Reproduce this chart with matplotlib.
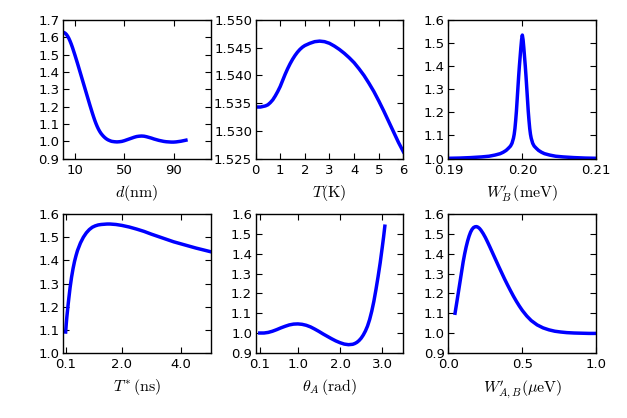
import matplotlib
matplotlib.use("Agg")
import matplotlib.pyplot as plt
import numpy as np

# values
d_nm = [0, 1, 2, 3, 4, 5, 6, 7, 8, 9, 10, 11, 12, 13, 14, 15, 16, 17, 18, 19, 20,
        21, 22, 23, 24, 25, 26, 27, 28, 29, 30, 31, 32, 33, 34, 35, 36, 37, 38, 39,
        40, 42, 44, 46, 48, 50, 52, 54, 56, 58, 60, 62, 64, 66, 68, 70, 72, 74, 76,
        78, 80, 82, 84, 86, 88, 90, 92, 94, 96, 98, 100]
ratio_d = [1.630, 1.628, 1.624, 1.617, 1.607, 1.594, 1.578, 1.560, 1.540, 1.518,
           1.496, 1.473, 1.450, 1.426, 1.402, 1.378, 1.354, 1.330, 1.306, 1.282,
           1.258, 1.234, 1.210, 1.187, 1.164, 1.142, 1.121, 1.102, 1.085, 1.070,
           1.057, 1.046, 1.037, 1.029, 1.022, 1.016, 1.011, 1.007, 1.004, 1.001,
           0.999, 0.997, 0.996, 0.997, 0.999, 1.003, 1.008, 1.013, 1.018, 1.023,
           1.027, 1.029, 1.030, 1.029, 1.026, 1.022, 1.018, 1.013, 1.009, 1.005,
           1.002, 0.999, 0.997, 0.996, 0.995, 0.995, 0.996, 0.998, 1.000, 1.003,
           1.006]

T_K = [0.0, 0.2, 0.3, 0.4, 0.5, 0.6, 0.7, 0.8, 0.9, 1.0, 1.1, 1.2, 1.3, 1.4, 1.5,
       1.6, 1.7, 1.8, 1.9, 2.0, 2.2, 2.4, 2.6, 2.8, 3.0, 3.2, 3.4, 3.6, 3.8, 4.0,
       4.2, 4.4, 4.6, 4.8, 5.0, 5.2, 5.4, 5.6, 5.8, 6.0]
ratio_T = [1.5343, 1.5343, 1.5344, 1.5345, 1.5347, 1.5351, 1.5356, 1.5363, 1.5371,
           1.5380, 1.5391, 1.5402, 1.5412, 1.5421, 1.5429, 1.5436, 1.5442, 1.5447,
           1.5451, 1.5454, 1.5458, 1.5461, 1.5462, 1.5461, 1.5458, 1.5453, 1.5447,
           1.5440, 1.5432, 1.5423, 1.5412, 1.5400, 1.5386, 1.5371, 1.5354, 1.5336,
           1.5317, 1.5298, 1.5279, 1.5262]

# W'_B : offsets from the peak (in 1e-3 meV), right half; curve is symmetric
wb_offset = [0, 0.1, 0.2, 0.3, 0.4, 0.5, 0.6, 0.7, 0.8, 0.9, 1.0, 1.1, 1.2, 1.4,
             1.6, 1.9, 2.2, 2.6, 3.0, 3.7, 4.5, 5.5, 7.0, 8.5, 10.0]
ratio_wb_half = [1.535, 1.515, 1.480, 1.440, 1.400, 1.355, 1.305, 1.255, 1.205,
                 1.165, 1.130, 1.105, 1.088, 1.066, 1.054, 1.044, 1.035, 1.027,
                 1.021, 1.015, 1.010, 1.007, 1.004, 1.002, 1.001]
wb_center = 0.200

Tstar_ns = [0.1, 0.12, 0.14, 0.16, 0.18, 0.2, 0.25, 0.3, 0.35, 0.4, 0.45, 0.5, 0.6,
            0.7, 0.8, 0.9, 1.0, 1.1, 1.2, 1.3, 1.4, 1.5, 1.6, 1.7, 1.8, 1.9, 2.0,
            2.25, 2.5, 2.75, 3.0, 3.25, 3.5, 3.75, 4.0, 4.25, 4.5, 4.75, 5.0]
ratio_Tstar = [1.09, 1.125, 1.155, 1.18, 1.205, 1.228, 1.283, 1.328, 1.365, 1.396,
               1.421, 1.443, 1.476, 1.501, 1.520, 1.534, 1.544, 1.550, 1.554, 1.556,
               1.557, 1.558, 1.558, 1.557, 1.556, 1.554, 1.552, 1.545, 1.536, 1.526,
               1.514, 1.503, 1.492, 1.481, 1.472, 1.463, 1.454, 1.446, 1.438]

theta_rad = [0.1, 0.2, 0.3, 0.4, 0.5, 0.6, 0.7, 0.8, 0.9, 1.0, 1.1, 1.2, 1.3, 1.4,
             1.5, 1.6, 1.7, 1.8, 1.9, 2.0, 2.1, 2.2, 2.3, 2.35, 2.4, 2.45, 2.5,
             2.55, 2.6, 2.65, 2.7, 2.75, 2.8, 2.85, 2.9, 2.95, 3.0, 3.03, 3.06]
ratio_theta = [1.000, 1.000, 1.003, 1.009, 1.017, 1.026, 1.034, 1.041, 1.045, 1.046,
               1.044, 1.039, 1.031, 1.020, 1.008, 0.995, 0.983, 0.971, 0.960, 0.951,
               0.944, 0.941, 0.943, 0.947, 0.953, 0.962, 0.974, 0.990, 1.010, 1.035,
               1.068, 1.110, 1.160, 1.220, 1.285, 1.355, 1.435, 1.485, 1.540]

wab_ueV = [0.045, 0.06, 0.08, 0.10, 0.11, 0.12, 0.13, 0.14, 0.15, 0.16, 0.17, 0.18,
           0.19, 0.20, 0.21, 0.22, 0.235, 0.25, 0.265, 0.28, 0.30, 0.32, 0.34, 0.36,
           0.38, 0.40, 0.42, 0.44, 0.46, 0.48, 0.50, 0.53, 0.56, 0.60, 0.64, 0.68,
           0.72, 0.76, 0.80, 0.85, 0.90, 0.95, 1.00]
ratio_wab = [1.10, 1.17, 1.265, 1.36, 1.40, 1.435, 1.465, 1.49, 1.51, 1.524, 1.533,
             1.537, 1.538, 1.535, 1.529, 1.52, 1.503, 1.483, 1.46, 1.436, 1.403, 1.37,
             1.337, 1.305, 1.273, 1.243, 1.214, 1.186, 1.16, 1.136, 1.114, 1.086,
             1.063, 1.041, 1.026, 1.016, 1.009, 1.005, 1.002, 1.000, 0.999, 0.998,
             0.998]

plt.rcParams['mathtext.fontset'] = 'cm'
plt.rcParams['font.size'] = 9.5
plt.rcParams['axes.labelsize'] = 11.5
plt.rcParams['xtick.direction'] = 'in'
plt.rcParams['ytick.direction'] = 'in'
plt.rcParams['xtick.top'] = True
plt.rcParams['ytick.right'] = True
plt.rcParams['xtick.major.size'] = 4
plt.rcParams['ytick.major.size'] = 4
plt.rcParams['xtick.major.pad'] = 4
plt.rcParams['ytick.major.pad'] = 2.5
plt.rcParams['axes.linewidth'] = 1.0

fig, axs = plt.subplots(2, 3, figsize=(6.27, 4.18), dpi=100)
fig.subplots_adjust(left=0.100, right=0.951, bottom=0.156, top=0.952,
                    wspace=0.304, hspace=0.403)

lw = 2.5
col = '#0000ff'

# W'_B full curve from the symmetric half
wb_x = np.concatenate([wb_center - np.array(wb_offset[::-1]) * 1e-3,
                       wb_center + np.array(wb_offset[1:]) * 1e-3])
wb_y = np.concatenate([ratio_wb_half[::-1], ratio_wb_half[1:]])

ax = axs[0, 0]
ax.plot(d_nm, ratio_d, color=col, lw=lw)
ax.set_xlim(0, 120)
ax.set_ylim(0.9, 1.7)
ax.set_xticks([10, 50, 90])
yt0 = [0.9, 1.0, 1.1, 1.2, 1.3, 1.4, 1.5, 1.6, 1.7]
ax.set_yticks(yt0)
ax.set_yticklabels(['%.1f' % v for v in yt0])
ax.set_xlabel(r'$d(\mathrm{nm})$')

ax = axs[0, 1]
ax.plot(T_K, ratio_T, color=col, lw=lw)
ax.set_xlim(0, 6)
ax.set_ylim(1.525, 1.550)
ax.set_xticks(range(0, 7))
yt = [1.525, 1.530, 1.535, 1.540, 1.545, 1.550]
ax.set_yticks(yt)
ax.set_yticklabels(['%.3f' % v for v in yt])
ax.set_xlabel(r'$T(\mathrm{K})$')

ax = axs[0, 2]
ax.plot(wb_x, wb_y, color=col, lw=lw)
ax.set_xlim(0.19, 0.21)
ax.set_ylim(1.0, 1.6)
ax.set_xticks([0.19, 0.20, 0.21])
ax.set_xticklabels(['0.19', '0.20', '0.21'])
yt = [1.0, 1.1, 1.2, 1.3, 1.4, 1.5, 1.6]
ax.set_yticks(yt)
ax.set_yticklabels(['%.1f' % v for v in yt])
ax.set_xlabel(r"$W_B^{\prime}\,(\mathrm{meV})$")

ax = axs[1, 0]
ax.plot(Tstar_ns, ratio_Tstar, color=col, lw=lw)
ax.set_xlim(0, 5)
ax.set_ylim(1.0, 1.6)
ax.set_xticks([0.1, 2.0, 4.0])
ax.set_xticklabels(['0.1', '2.0', '4.0'])
ax.set_yticks(yt)
ax.set_yticklabels(['%.1f' % v for v in yt])
ax.set_xlabel(r'$T^{*}\,(\mathrm{ns})$')

yt2 = [0.9, 1.0, 1.1, 1.2, 1.3, 1.4, 1.5, 1.6]

ax = axs[1, 1]
ax.plot(theta_rad, ratio_theta, color=col, lw=lw)
ax.set_xlim(0, 3.5)
ax.set_ylim(0.9, 1.6)
ax.set_xticks([0.1, 1.0, 2.0, 3.0])
ax.set_xticklabels(['0.1', '1.0', '2.0', '3.0'])
ax.set_yticks(yt2)
ax.set_yticklabels(['%.1f' % v for v in yt2])
ax.set_xlabel(r'$\theta_A\,(\mathrm{rad})$')

ax = axs[1, 2]
ax.plot(wab_ueV, ratio_wab, color=col, lw=lw)
ax.set_xlim(0, 1)
ax.set_ylim(0.9, 1.6)
ax.set_xticks([0.0, 0.5, 1.0])
ax.set_xticklabels(['0.0', '0.5', '1.0'])
ax.set_yticks(yt2)
ax.set_yticklabels(['%.1f' % v for v in yt2])
ax.set_xlabel(r"$W_{A,B}^{\prime}(\mu\mathrm{eV})$")

fig.savefig('out.png', dpi=100)
